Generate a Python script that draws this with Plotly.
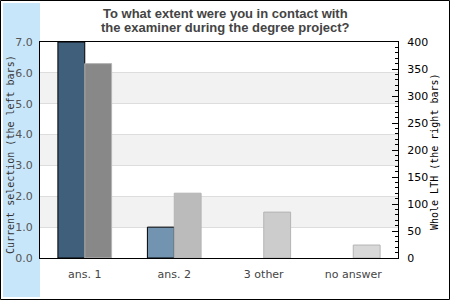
import plotly.graph_objects as go

categories = ["ans. 1", "ans. 2", "3 other", "no answer"]
current_selection = [7, 1, 0, 0]
whole_lth = [360, 120, 85, 24]
left_colors = ["#3f5f7b", "#7394b0", "#7394b0", "#7394b0"]
right_colors = ["#888888", "#bbbbbb", "#cccccc", "#d8d8d8"]
title_lines = ["To what extent were you in contact with", "the examiner during the degree project?"]

W, H = 450, 300
L, R, T, B = 40, 52, 42, 42
pw, ph = W - L - R, H - T - B

def px(x):
    return (x - L) / pw

def py(y):
    return (H - B - y) / ph

fig = go.Figure()
fig.add_trace(go.Bar(x=categories, y=current_selection, yaxis="y", offsetgroup="L",
                     marker=dict(color=left_colors,
                                 line=dict(color="#000000", width=[1 if v else 0 for v in current_selection])),
                     showlegend=False, hoverinfo="skip"))
fig.add_trace(go.Bar(x=categories, y=whole_lth, yaxis="y2", offsetgroup="R",
                     marker=dict(color=right_colors, line=dict(color="#b4b4b4", width=1)),
                     showlegend=False, hoverinfo="skip"))

shapes = []
shapes.append(dict(type="rect", xref="paper", yref="paper", x0=px(3), x1=px(40), y0=py(297), y1=py(3),
                   fillcolor="#c8e6fa", line=dict(width=0), layer="below"))
for lo in [1, 3, 5]:
    shapes.append(dict(type="rect", xref="paper", yref="y", x0=0, x1=1, y0=lo, y1=lo + 1,
                       fillcolor="#f2f2f2", line=dict(width=0), layer="below"))
shapes.append(dict(type="rect", xref="paper", yref="paper", x0=px(0.5), x1=px(449.5), y0=py(299.5), y1=py(0.5),
                   fillcolor="rgba(0,0,0,0)", line=dict(color="#000000", width=1)))

annotations = []
for i, line in enumerate(title_lines):
    annotations.append(dict(text="<b>%s</b>" % line, xref="paper", yref="paper", x=px(225), y=py(13.5 + 14 * i),
                            showarrow=False, xanchor="center", yanchor="middle",
                            font=dict(family="Liberation Sans", size=13, color="#444444")))
annotations += [
    dict(text="Current selection (the left bars)", xref="paper", yref="paper", x=px(10), y=py(155),
         showarrow=False, textangle=-90, xanchor="center", yanchor="middle",
         font=dict(family="DejaVu Sans Mono", size=10, color="#333333")),
    dict(text="Whole LTH (the right bars)", xref="paper", yref="paper", x=px(434), y=py(152),
         showarrow=False, textangle=-90, xanchor="center", yanchor="middle",
         font=dict(family="DejaVu Sans Mono", size=10, color="#000000")),
]

fig.update_layout(
    width=W, height=H,
    margin=dict(l=L, r=R, t=T, b=B),
    paper_bgcolor="#ffffff", plot_bgcolor="rgba(0,0,0,0)",
    barmode="group", bargap=0.4, bargroupgap=0,
    shapes=shapes,
    annotations=annotations,
    xaxis=dict(showline=True, linecolor="#000000", linewidth=1, mirror=True, ticks="",
               tickfont=dict(family="DejaVu Sans", size=11, color="#444444"), ticklabelstandoff=6),
    yaxis=dict(range=[0, 7], dtick=1, tickformat=".1f", showline=True, linecolor="#000000", linewidth=1,
               gridcolor="#dddddd", gridwidth=1, zeroline=False, ticks="",
               tickfont=dict(family="DejaVu Sans", size=11, color="#555555"), ticklabelstandoff=4),
    yaxis2=dict(range=[0, 400], dtick=50, overlaying="y", side="right", showgrid=False, zeroline=False,
                showline=True, linecolor="#000000", linewidth=1, ticks="inside", ticklen=6, tickcolor="#000000",
                minor=dict(dtick=10, ticks="inside", ticklen=3, tickcolor="#000000"),
                tickfont=dict(family="DejaVu Sans", size=11, color="#000000"), ticklabelstandoff=6),
)

fig.write_html("out.html")
